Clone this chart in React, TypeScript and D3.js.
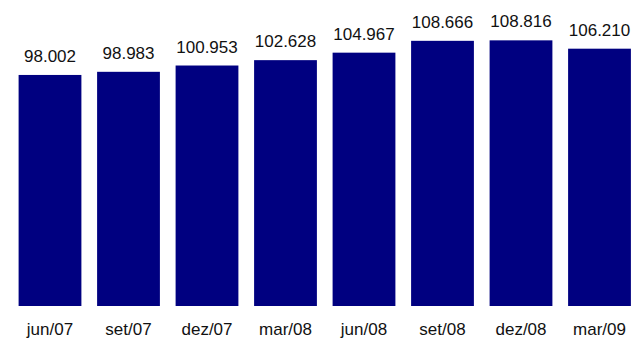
import React from "react";
import * as d3 from "d3";

const categories = ["jun/07", "set/07", "dez/07", "mar/08", "jun/08", "set/08", "dez/08", "mar/09"];
const values = [98.002, 98.983, 100.953, 102.628, 104.967, 108.666, 108.816, 106.21];
const valueLabels = ["98.002", "98.983", "100.953", "102.628", "104.967", "108.666", "108.816", "106.210"];

const W = 631;
const H = 339;

export default function App() {
  const x = d3.scaleBand<string>().domain(categories).range([10.75, 638.75]).paddingInner(0.2).paddingOuter(0.1);
  const yMin = 25.8;
  const y = d3.scaleLinear().domain([yMin, 120]).range([306, 4.56]);
  const font = "'Liberation Sans', Arial, sans-serif";
  return (
    <svg width={W} height={H} style={{ position: "absolute", left: 0, top: 0, background: "#fff" }}>
      <rect x={0} y={0} width={W} height={H} fill="#fff" />
      {categories.map((c, i) => {
        const bx = x(c)!;
        const by = y(values[i]);
        return (
          <g key={c}>
            <rect x={bx} y={by} width={x.bandwidth()} height={y(yMin) - by} fill="#000080" />
            <text x={bx + x.bandwidth() / 2} y={by - 13} textAnchor="middle" fontFamily={font} fontSize={17} fill="#111">
              {valueLabels[i]}
            </text>
            <text x={bx + x.bandwidth() / 2} y={335} textAnchor="middle" fontFamily={font} fontSize={17} fill="#111">
              {c}
            </text>
          </g>
        );
      })}
    </svg>
  );
}
